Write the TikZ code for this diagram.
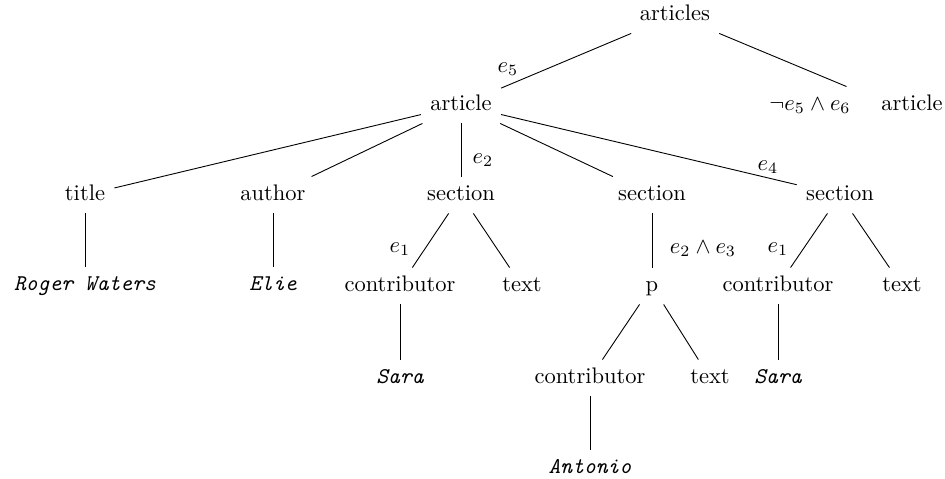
\documentclass[tikz,border=0pt]{standalone}
\begin{document}
\begin{tikzpicture}[x=0.4444pt,y=-0.4444pt,
  tn/.style={text height=7pt,text depth=2pt,inner xsep=4pt,inner ysep=3.5pt},
  val/.style={tn,font=\ttfamily\itshape},
  lbl/.style={inner sep=0pt},
  conn/.style={line width=0.4pt}]
\useasboundingbox (0,0) rectangle (945,479);
% nodes
\node[tn] (articles) at (675,15) {articles};
\node[tn] (art1) at (461,105) {article};
\node[tn] (art2) at (912,105) {article};
\node[tn] (lab56) at (810,105) {$\neg e_5\wedge e_6$};
\node[tn] (title) at (85,195) {title};
\node[tn] (author) at (273,195) {author};
\node[tn] (sec1) at (461,195) {section};
\node[tn] (sec2) at (652,195) {section};
\node[tn] (sec3) at (840,195) {section};
\node[val] (rw) at (85,285) {Roger Waters};
\node[val] (elie) at (273,285) {Elie};
\node[tn] (con1) at (400,286) {contributor};
\node[tn] (text1) at (522,286) {text};
\node[tn] (p) at (652,286) {p};
\node[tn] (con3) at (778,286) {contributor};
\node[tn] (text3) at (902,286) {text};
\node[val] (sara1) at (400,378) {Sara};
\node[tn] (con2) at (590,378) {contributor};
\node[tn] (text2) at (710,378) {text};
\node[val] (sara2) at (778,378) {Sara};
\node[val] (antonio) at (590,468) {Antonio};
% edge labels
\node[lbl] (le5) at (508,69) {$e_5$};
\node[lbl] (le2a) at (483,160) {$e_2$};
\node[lbl] (le4) at (768,167) {$e_4$};
\node[lbl] (le1a) at (400,249) {$e_1$};
\node[lbl] (le23) at (703,249) {$e_2\wedge e_3$};
\node[lbl] (le1b) at (778,249) {$e_1$};
% connectors
\draw[conn] (articles) -- (art1);
\draw[conn] (articles) -- ([xshift=-6pt]lab56.north east);
\draw[conn] (art1) -- (title);
\draw[conn] (art1) -- (author);
\draw[conn] (art1) -- (sec1);
\draw[conn] (art1) -- (sec2);
\draw[conn] (art1) -- (sec3);
\draw[conn] (title) -- (rw);
\draw[conn] (author) -- (elie);
\draw[conn] (sec1) -- (con1);
\draw[conn] (sec1) -- (text1);
\draw[conn] (sec2) -- (p);
\draw[conn] (sec3) -- (con3);
\draw[conn] (sec3) -- (text3);
\draw[conn] (con1) -- (sara1);
\draw[conn] (p) -- (con2);
\draw[conn] (p) -- (text2);
\draw[conn] (con3) -- (sara2);
\draw[conn] (con2) -- (antonio);
\end{tikzpicture}
\end{document}
